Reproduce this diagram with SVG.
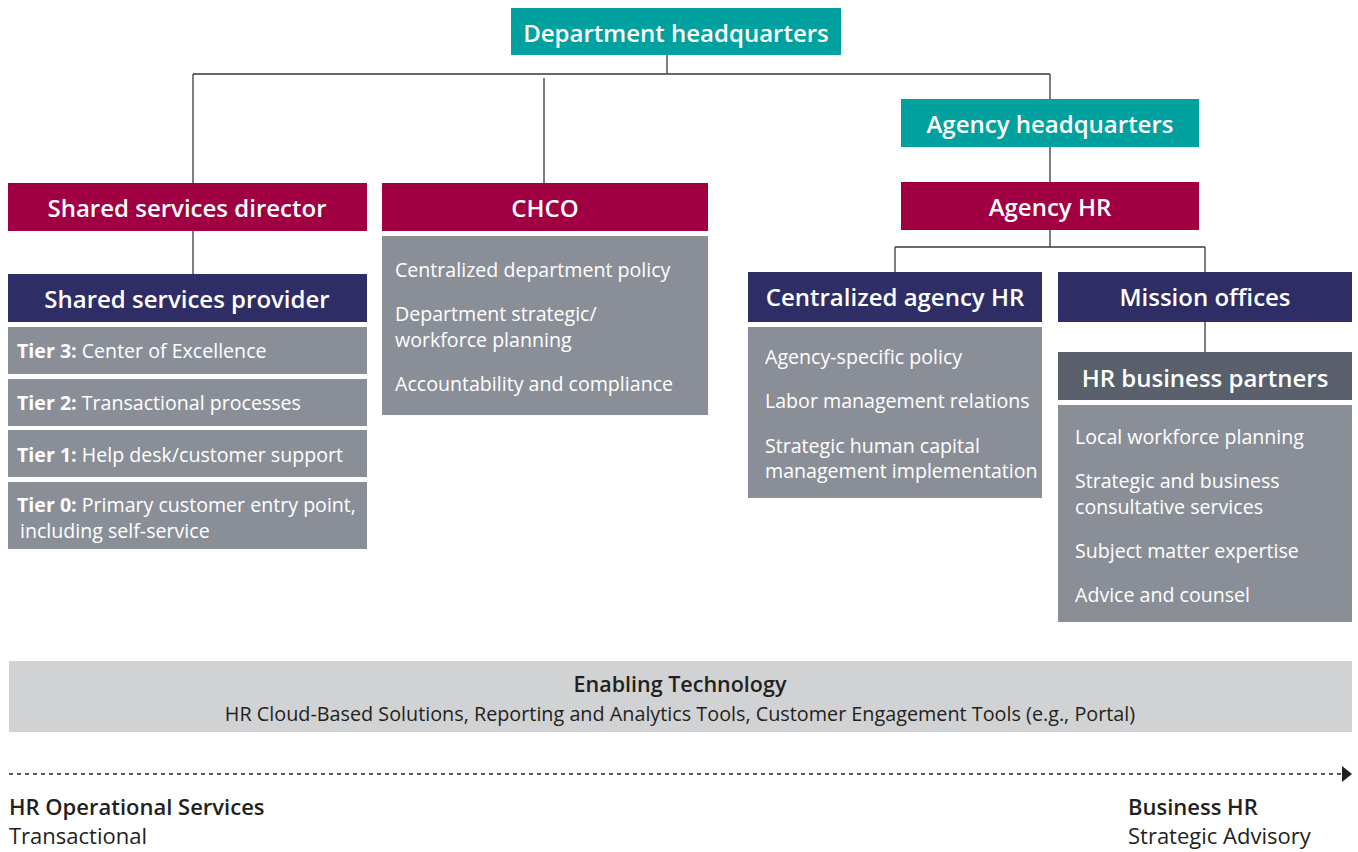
<svg xmlns="http://www.w3.org/2000/svg" width="1358" height="852" viewBox="0 0 1358 852">
<defs>
<style>
.teal{fill:#00A19F}
.crim{fill:#A00042}
.navy{fill:#2E2D66}
.gray{fill:#8A8F97}
.dgray{fill:#59606B}
.lgray{fill:#D1D2D4}
.h{font-family:"Open Sans","Liberation Sans",sans-serif;font-weight:600;font-size:24px;fill:#fff;text-anchor:middle}
.b{font-family:"Open Sans","Liberation Sans",sans-serif;font-size:19.6px;fill:#fff}
.bb{font-weight:700}
.k{font-family:"Open Sans","Liberation Sans",sans-serif;fill:#231F20}
.ln{stroke:#3a3a3a;stroke-width:1.3;fill:none}
</style>
<marker id="arr" viewBox="0 0 10 16" refX="9" refY="8" markerWidth="10" markerHeight="16" markerUnits="userSpaceOnUse" orient="auto">
<path d="M0,0 L10,8 L0,16 Z" fill="#231F20"/>
</marker>
</defs>
<rect width="1358" height="852" fill="#fff"/>
<g id="connectors">
<path class="ln" d="M667,55 V74 M193,74 H1050 M193,74 V183 M544,78 V183 M1050,74 V99 M1050,147 V182 M1050,230 V247 M895,247 H1205 M895,247 V272 M1205,247 V272 M193,231 V274 M1205,322 V352"/>
<line x1="9" y1="774" x2="1351" y2="774" stroke="#231F20" stroke-width="1.3" stroke-dasharray="4,4" marker-end="url(#arr)"/>
</g>
<g id="dept-hq"><rect class="teal" x="511" y="8" width="330" height="47"/><text class="h" x="676" y="42">Department headquarters</text></g>
<g id="agency-hq"><rect class="teal" x="901" y="99" width="298" height="48"/><text class="h" x="1050" y="133">Agency headquarters</text></g>
<g id="agency-hr"><rect class="crim" x="901" y="182" width="298" height="48"/><text class="h" x="1050" y="216">Agency HR</text></g>
<g id="ss-director"><rect class="crim" x="8" y="183" width="359" height="48"/><text class="h" x="187" y="217">Shared services director</text></g>
<g id="chco"><rect class="crim" x="382" y="183" width="326" height="48"/><text class="h" x="545" y="217">CHCO</text></g>
<g id="ss-provider"><rect class="navy" x="8" y="274" width="359" height="48"/><text class="h" x="187" y="308">Shared services provider</text></g>
<g id="tier3"><rect class="gray" x="8" y="327" width="359" height="47"/><text class="b" x="17" y="358"><tspan class="bb">Tier 3:</tspan> Center of Excellence</text></g>
<g id="tier2"><rect class="gray" x="8" y="379" width="359" height="47"/><text class="b" x="17" y="410"><tspan class="bb">Tier 2:</tspan> Transactional processes</text></g>
<g id="tier1"><rect class="gray" x="8" y="430" width="359" height="47"/><text class="b" x="17" y="462"><tspan class="bb">Tier 1:</tspan> Help desk/customer support</text></g>
<g id="tier0"><rect class="gray" x="8" y="482" width="359" height="67"/><text class="b" x="17" y="512"><tspan class="bb">Tier 0:</tspan> Primary customer entry point,</text><text class="b" x="20" y="538">including self-service</text></g>
<g id="chco-items"><rect class="gray" x="382" y="236" width="326" height="179"/>
<text class="b" x="395" y="277">Centralized department policy</text>
<text class="b" x="395" y="321">Department strategic/</text>
<text class="b" x="395" y="347">workforce planning</text>
<text class="b" x="395" y="391">Accountability and compliance</text></g>
<g id="central-agency-hr"><rect class="navy" x="748" y="272" width="294" height="50"/><text class="h" x="895" y="306">Centralized agency HR</text></g>
<g id="mission-offices"><rect class="navy" x="1058" y="272" width="294" height="50"/><text class="h" x="1205" y="306">Mission offices</text></g>
<g id="central-items"><rect class="gray" x="748" y="327" width="294" height="171"/>
<text class="b" x="765" y="364">Agency-specific policy</text>
<text class="b" x="765" y="408">Labor management relations</text>
<text class="b" x="765" y="453">Strategic human capital</text>
<text class="b" x="765" y="478">management implementation</text></g>
<g id="hrbp"><rect class="dgray" x="1058" y="352" width="294" height="48"/><text class="h" x="1205" y="387">HR business partners</text></g>
<g id="hrbp-items"><rect class="gray" x="1058" y="405" width="294" height="217"/>
<text class="b" x="1075" y="444">Local workforce planning</text>
<text class="b" x="1075" y="488">Strategic and business</text>
<text class="b" x="1075" y="514">consultative services</text>
<text class="b" x="1075" y="558">Subject matter expertise</text>
<text class="b" x="1075" y="602">Advice and counsel</text></g>
<g id="enabling-tech"><rect class="lgray" x="9" y="661" width="1343" height="71"/>
<text class="k" x="680" y="692" font-size="21.5" font-weight="600" text-anchor="middle">Enabling Technology</text>
<text class="k" x="680" y="721" font-size="19.8" text-anchor="middle">HR Cloud-Based Solutions, Reporting and Analytics Tools, Customer Engagement Tools (e.g., Portal)</text></g>
<g id="axis-labels">
<text class="k" x="9" y="815" font-size="22" font-weight="600">HR Operational Services</text>
<text class="k" x="9" y="844" font-size="22">Transactional</text>
<text class="k" x="1128" y="815" font-size="22" font-weight="600">Business HR</text>
<text class="k" x="1128" y="844" font-size="22">Strategic Advisory</text>
</g>
</svg>
